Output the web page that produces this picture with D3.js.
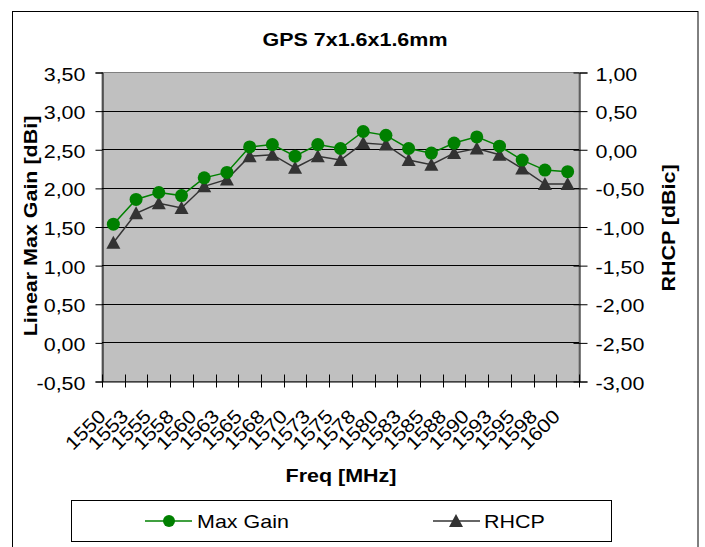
<!DOCTYPE html>
<html lang="en">
  <head>
    <meta charset="UTF-8" />
    <title>GPS 7x1.6x1.6mm</title>
    <script src="https://d3js.org/d3.v7.min.js"></script>
    <style>
      html,
      body {
        margin: 0;
        padding: 0;
        background: #fff;
      }
      text {
        font-family: Arial, "Liberation Sans", sans-serif;
        fill: #000;
      }
    </style>
  </head>
  <body>
    <div id="viz"></div>
    <script>
      // data
      const freqs = [
        "1550", "1553", "1555", "1558", "1560", "1563", "1565", "1568",
        "1570", "1573", "1575", "1578", "1580", "1583", "1585", "1588",
        "1590", "1593", "1595", "1598", "1600",
      ];
      const maxGain = [
        1.53, 1.85, 1.94, 1.9, 2.13, 2.2, 2.53, 2.56, 2.41, 2.56, 2.51,
        2.73, 2.68, 2.51, 2.45, 2.58, 2.66, 2.54, 2.36, 2.23, 2.21,
      ];
      const rhcp = [
        -1.21, -0.83, -0.7, -0.76, -0.48, -0.39, -0.09, -0.07, -0.24, -0.09,
        -0.14, 0.08, 0.06, -0.14, -0.2, -0.05, 0.01, -0.07, -0.25, -0.45,
        -0.45,
      ];
      const leftTicks = [-0.5, 0, 0.5, 1, 1.5, 2, 2.5, 3, 3.5];
      const rightTicks = [-3, -2.5, -2, -1.5, -1, -0.5, 0, 0.5, 1];

      const W = 705,
        H = 547;
      const plot = { left: 102, right: 579, top: 72, bottom: 381 };
      const FS = 19; // font size
      const SX = 1.13; // the original text is rendered a bit wide

      const svg = d3
        .select("#viz")
        .append("svg")
        .attr("width", W)
        .attr("height", H);

      // outer chart border
      svg
        .append("rect")
        .attr("x", 12.5)
        .attr("y", 11.5)
        .attr("width", 685.5)
        .attr("height", 560)
        .attr("fill", "#fff")
        .attr("stroke", "#000");

      const x = d3
        .scaleBand()
        .domain(freqs)
        .range([plot.left, plot.right]);
      const yL = d3
        .scaleLinear()
        .domain([-0.5, 3.5])
        .range([plot.bottom, plot.top]);
      const yR = d3
        .scaleLinear()
        .domain([-3, 1])
        .range([plot.bottom, plot.top]);

      const fmt = (v) => d3.format(".2f")(v).replace(".", ",").replace("−", "-");

      // plot area
      svg
        .append("rect")
        .attr("x", plot.left)
        .attr("y", plot.top + 0.5)
        .attr("width", plot.right - plot.left)
        .attr("height", plot.bottom - plot.top)
        .attr("fill", "#c0c0c0")
        .attr("stroke", "#808080");

      // gridlines
      svg
        .append("g")
        .selectAll("line")
        .data(leftTicks.slice(1, -1))
        .join("line")
        .attr("x1", plot.left)
        .attr("x2", plot.right)
        .attr("y1", (d) => Math.round(yL(d)) + 0.5)
        .attr("y2", (d) => Math.round(yL(d)) + 0.5)
        .attr("stroke", "#000");

      // left axis
      const gl = svg
        .append("g")
        .attr("transform", `translate(${plot.left + 0.5},0.5)`)
        .call(
          d3.axisLeft(yL).tickValues(leftTicks).tickFormat(fmt).tickSize(7)
        );
      gl.select(".domain").attr("stroke", "#000");
      gl.selectAll(".tick text")
        .attr("x", 0)
        .attr("dy", "0.4em")
        .attr("font-size", FS)
        .attr("text-anchor", "end")
        .attr("transform", `translate(-17,0) scale(${SX},1)`)
        .style("font-family", "Arial, 'Liberation Sans', sans-serif");

      // right axis
      const gr = svg
        .append("g")
        .attr("transform", `translate(${plot.right + 0.5},0.5)`)
        .call(
          d3.axisRight(yR).tickValues(rightTicks).tickFormat(fmt).tickSize(8)
        );
      gr.select(".domain").attr("stroke", "#000");
      gr.selectAll(".tick line").attr("x1", -6);
      gr.selectAll(".tick text")
        .attr("x", 0)
        .attr("dy", "0.4em")
        .attr("font-size", FS)
        .attr("text-anchor", "start")
        .attr("transform", `translate(16,0) scale(${SX},1)`)
        .style("font-family", "Arial, 'Liberation Sans', sans-serif");

      // bottom axis, tick marks between categories
      const gb = svg
        .append("g")
        .attr("transform", `translate(0.5,${plot.bottom + 0.5})`)
        .call(d3.axisBottom(x).tickSize(0).tickPadding(0));
      gb.select(".domain").attr("stroke", "#000");
      gb.selectAll(".tick text")
        .attr("y", 0)
        .attr("dy", 0)
        .attr("font-size", FS)
        .attr("text-anchor", "end")
        .attr("transform", `translate(-7,36) rotate(-45) scale(${SX},1)`)
        .style("font-family", "Arial, 'Liberation Sans', sans-serif");
      gb.append("g")
        .selectAll("line")
        .data(freqs.concat(["end"]))
        .join("line")
        .attr("x1", (d, i) => Math.round(plot.left + i * x.step()))
        .attr("x2", (d, i) => Math.round(plot.left + i * x.step()))
        .attr("y1", -7)
        .attr("y2", 6)
        .attr("stroke", "#000");

      const cx = (d, i) => x(freqs[i]) + x.bandwidth() / 2;
      const tri = "M0,-7L7,6L-7,6Z";

      // RHCP series (right axis)
      svg
        .append("path")
        .datum(rhcp)
        .attr("fill", "none")
        .attr("stroke", "#333333")
        .attr("stroke-width", 1.5)
        .attr("d", d3.line().x(cx).y((d) => yR(d)));
      svg
        .append("g")
        .selectAll("path")
        .data(rhcp)
        .join("path")
        .attr("transform", (d, i) => `translate(${cx(d, i)},${yR(d)})`)
        .attr("d", tri)
        .attr("fill", "#333333");

      // Max Gain series (left axis)
      svg
        .append("path")
        .datum(maxGain)
        .attr("fill", "none")
        .attr("stroke", "#008000")
        .attr("stroke-width", 1.5)
        .attr("d", d3.line().x(cx).y((d) => yL(d)));
      svg
        .append("g")
        .selectAll("circle")
        .data(maxGain)
        .join("circle")
        .attr("cx", cx)
        .attr("cy", (d) => yL(d))
        .attr("r", 6.5)
        .attr("fill", "#008000");

      // text helper: place, rotate and widen
      function label(tx, ty, rot, txt, opts = {}) {
        return svg
          .append("text")
          .attr(
            "transform",
            `translate(${tx},${ty}) rotate(${rot}) scale(${SX},1)`
          )
          .attr("text-anchor", opts.anchor || "middle")
          .attr("font-size", opts.size || FS)
          .attr("font-weight", opts.bold ? "bold" : "normal")
          .text(txt);
      }

      label(355, 46, 0, "GPS 7x1.6x1.6mm", { bold: true });
      label(37, 226, -90, "Linear Max Gain [dBi]", { bold: true });
      label(675, 228, -90, "RHCP [dBic]", { bold: true });
      label(341, 482, 0, "Freq [MHz]", { bold: true });

      // legend
      const lg = svg.append("g");
      lg.append("rect")
        .attr("x", 71.5)
        .attr("y", 500.5)
        .attr("width", 540)
        .attr("height", 41)
        .attr("fill", "#fff")
        .attr("stroke", "#000");
      lg.append("line")
        .attr("x1", 145)
        .attr("x2", 192)
        .attr("y1", 521)
        .attr("y2", 521)
        .attr("stroke", "#008000")
        .attr("stroke-width", 1.5);
      lg.append("circle")
        .attr("cx", 169)
        .attr("cy", 521)
        .attr("r", 6)
        .attr("fill", "#008000");
      lg.append("line")
        .attr("x1", 433)
        .attr("x2", 480)
        .attr("y1", 521)
        .attr("y2", 521)
        .attr("stroke", "#333333")
        .attr("stroke-width", 1.5);
      lg.append("path")
        .attr("transform", "translate(456,521)")
        .attr("d", tri)
        .attr("fill", "#333333");
      label(197, 528, 0, "Max Gain", { anchor: "start" });
      label(484, 528, 0, "RHCP", { anchor: "start" });
    </script>
  </body>
</html>
